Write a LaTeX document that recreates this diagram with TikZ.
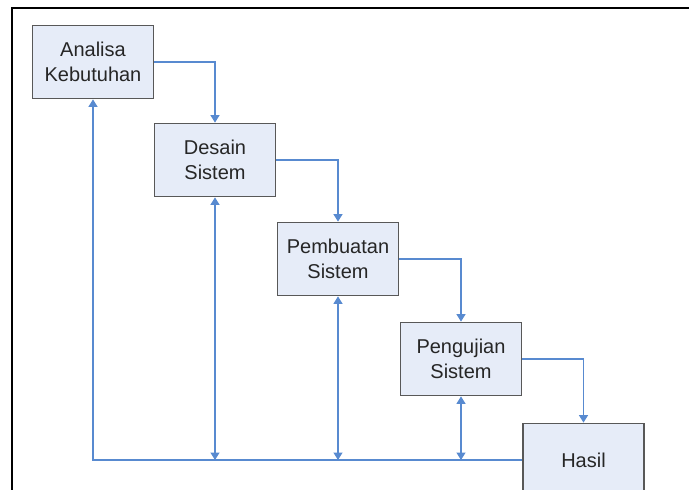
\documentclass[tikz,border=0pt]{standalone}
\usepackage{fontspec}
\setmainfont{Liberation Sans}
\usetikzlibrary{arrows.meta}
\definecolor{kotak}{RGB}{230,236,248}
\definecolor{garis}{RGB}{88,138,208}
\definecolor{tepi}{RGB}{88,88,88}
\tikzset{
  tahap/.style={draw=tepi, line width=1.8pt, fill=kotak, minimum width=121pt,
    minimum height=73pt, align=center, text=black!85,
    font=\fontsize{20}{25}\selectfont},
  alir/.style={draw=garis, line width=1.2pt, >={Triangle[width=9pt,length=7.5pt]}},
}
\begin{document}
\begin{tikzpicture}[x=1pt,y=-1pt]
      \useasboundingbox (0,0) rectangle (689,490);
      \draw[line width=2pt] (12,490) -- (12,7.5) -- (689,7.5);
      \draw
        (93,62) node[tahap] (analisa){Analisa\\Kebutuhan}
        (215,160) node[tahap] (desain){Desain\\Sistem}
        (338,259) node[tahap] (pembuatan){Pembuatan\\Sistem}
        (461,359) node[tahap] (pengujian){Pengujian\\Sistem}
        (583.5,460) node[tahap] (hasil){Hasil};
      \begin{scope}[alir]
        \draw[->] (analisa.east) -| (desain.north);
        \draw[->] (desain.east) -| (pembuatan.north);
        \draw[->] (pembuatan.east) -| (pengujian.north);
        \draw[->] (pengujian.east) -| (hasil.north);
        \draw[->] (hasil.west) -- (analisa |- hasil.west) -- (analisa.south);
        \draw[<->] (desain |- hasil.west) -- (desain.south);
        \draw[<->] (pembuatan |- hasil.west) -- (pembuatan.south);
        \draw[<->] (pengujian |- hasil.west) -- (pengujian.south);
      \end{scope}
    \end{tikzpicture}
\end{document}
